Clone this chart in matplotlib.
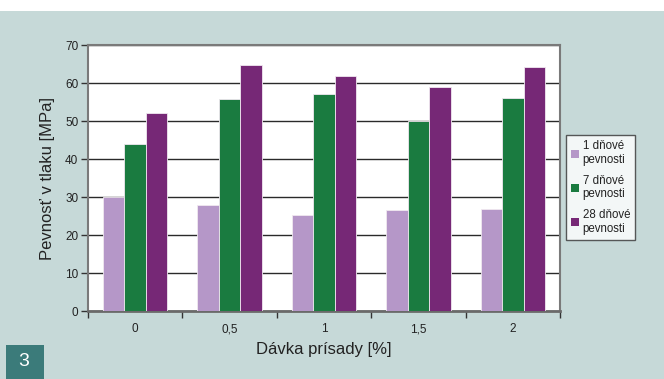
import matplotlib
matplotlib.use("Agg")
import matplotlib.pyplot as plt
import numpy as np
from matplotlib.patches import Rectangle, Patch

categories = ["0", "0,5", "1", "1,5", "2"]
day1 = [30.0, 28.0, 25.3, 26.6, 26.9]
day7 = [44.0, 55.8, 57.1, 50.0, 56.0]
day28 = [52.0, 64.8, 61.8, 59.0, 64.2]
series_labels = ["1 dňové\npevnosti", "7 dňové\npevnosti", "28 dňové\npevnosti"]
colors = ["#b597c8", "#1a7b40", "#762876"]
yticks = [0, 10, 20, 30, 40, 50, 60, 70]

plt.rcParams['font.family'] = ['Liberation Sans', 'DejaVu Sans']

W, H = 664, 379
fig = plt.figure(figsize=(W / 100, H / 100), dpi=100)
bg = "#c6d9d8"
fig.patch.set_facecolor(bg)
# white strip on top
fig.patches.append(Rectangle((0, 1 - 11 / H), 1, 11 / H, transform=fig.transFigure,
                             facecolor="white", edgecolor="none", zorder=0))
# number box
fig.patches.append(Rectangle((6 / W, 0), 38 / W, 34 / H, transform=fig.transFigure,
                             facecolor="#3b7b7a", edgecolor="none", zorder=1))
fig.text(24 / W, 17 / H, "3", color="white", fontsize=14, ha="center", va="center")

left, right, top, bottom = 88, 560, 45, 311
ax = fig.add_axes([left / W, 1 - bottom / H, (right - left) / W, (bottom - top) / H])
ax.set_facecolor("white")

x = np.arange(len(categories))
bw = 0.228
for i, (vals, c) in enumerate(zip([day1, day7, day28], colors)):
    ax.bar(x + (i - 1) * bw, vals, width=bw, color=c, edgecolor="#f0e8f0",
           linewidth=0.6, zorder=3)

ax.set_xlim(-0.5, len(categories) - 0.5)
ax.set_ylim(0, 70)
ax.set_yticks(yticks)
ax.set_yticklabels([str(v) for v in yticks], fontsize=8.5, color="#222222")
ax.yaxis.grid(True, color="#2a2a2a", linewidth=1.0, zorder=1)
ax.set_axisbelow(True)

ax.set_xticks(x)
ax.set_xticklabels(categories, fontsize=8.5, color="#222222")
ax.tick_params(axis="x", length=0, pad=9)
ax.set_xticks(np.arange(len(categories) + 1) - 0.5, minor=True)
ax.tick_params(axis="x", which="minor", length=5, width=1, color="#333333", direction="out")
ax.tick_params(axis="y", length=5, width=1, color="#333333", direction="out", pad=2)

for s in ["top", "right"]:
    ax.spines[s].set_color("#7a7a7a")
    ax.spines[s].set_linewidth(1.5)
ax.spines["left"].set_color("#7a7a7a")
ax.spines["left"].set_linewidth(1.5)
ax.spines["bottom"].set_color("#6a6a6a")
ax.spines["bottom"].set_linewidth(2.0)

ax.set_ylabel("Pevnosť v tlaku [MPa]", fontsize=12, color="#222222", labelpad=7)
ax.set_xlabel("Dávka prísady [%]", fontsize=12, color="#222222", labelpad=5)

handles = [Patch(facecolor=c, edgecolor="none") for c in colors]
leg = fig.legend(handles, series_labels, loc="upper left",
                 bbox_to_anchor=(566 / W, 1 - 135 / H), fontsize=8.3,
                 frameon=True, fancybox=False, handlelength=0.7, handleheight=0.7,
                 handletextpad=0.3, borderpad=0.45, labelspacing=0.75, borderaxespad=0)
leg.get_frame().set_edgecolor("#333333")
leg.get_frame().set_linewidth(1.0)
for t in leg.get_texts():
    t.set_color("#222222")

fig.savefig("out.png", dpi=100, facecolor=fig.get_facecolor())
